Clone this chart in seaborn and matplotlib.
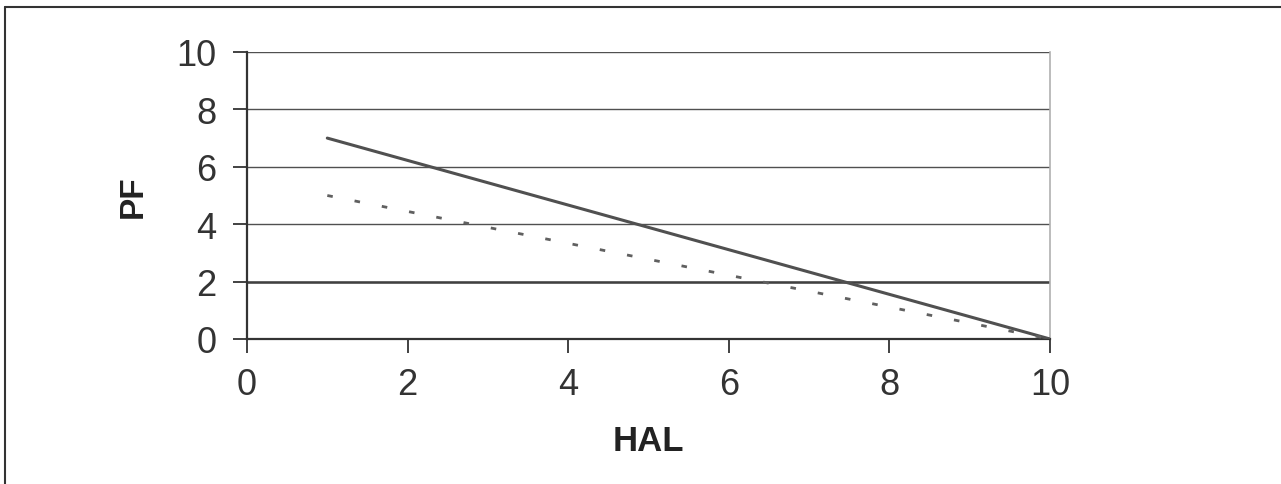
import numpy as np
import pandas as pd
import matplotlib
matplotlib.use("Agg")
import matplotlib.pyplot as plt
from matplotlib.lines import Line2D
import seaborn as sns

sns.set_style("ticks")
plt.rcParams["font.family"] = ["Liberation Sans", "DejaVu Sans"]

# data
hal = [1, 10]
pf_solid = [7, 0]
pf_dotted = [5, 0]
threshold = 2
x_ticks = [0, 2, 4, 6, 8, 10]
y_ticks = [0, 2, 4, 6, 8, 10]

fig = plt.figure(figsize=(12.81, 4.85), dpi=100)
ax = fig.add_axes([247 / 1281, 1 - 340 / 485, 803 / 1281, 287 / 485])

# horizontal grid
for yv in y_ticks[1:]:
    ax.axhline(yv, color="#505050", linewidth=1.0, zorder=1)
ax.axhline(threshold, color="#404040", linewidth=1.8, zorder=2)

sns.lineplot(x=hal, y=pf_solid, ax=ax, color="#505050", linewidth=2.2, zorder=3)
sns.lineplot(x=hal, y=pf_dotted, ax=ax, color="#606060", linewidth=2.0,
             linestyle=(0, (2, 8)), zorder=3)

ax.set_xlim(0, 10)
ax.set_ylim(0, 10)
ax.set_xticks(x_ticks)
ax.set_yticks(y_ticks)
ax.tick_params(axis="both", direction="out", length=10, width=1.3,
               color="#333333", labelsize=26, labelcolor="#333333")
ax.tick_params(axis="x", pad=10)
ax.tick_params(axis="y", pad=12)

for side in ["left", "bottom"]:
    ax.spines[side].set_color("#333333")
    ax.spines[side].set_linewidth(1.6)
ax.spines["top"].set_visible(False)
ax.spines["right"].set_color("#b0b0b0")
ax.spines["right"].set_linewidth(1.2)

ax.set_xlabel("HAL", fontsize=25, fontweight="bold", color="#222222", labelpad=16)
ax.set_ylabel("PF", fontsize=24, fontweight="bold", color="#222222", labelpad=20)

# outer frame (left and top edges only)
fig.add_artist(Line2D([5 / 1281, 5 / 1281], [0, 1 - 8 / 485],
                      transform=fig.transFigure, color="#333333", linewidth=1.5))
fig.add_artist(Line2D([5 / 1281, 1], [1 - 8 / 485, 1 - 8 / 485],
                      transform=fig.transFigure, color="#333333", linewidth=1.5))

fig.savefig("out.png", dpi=100)
